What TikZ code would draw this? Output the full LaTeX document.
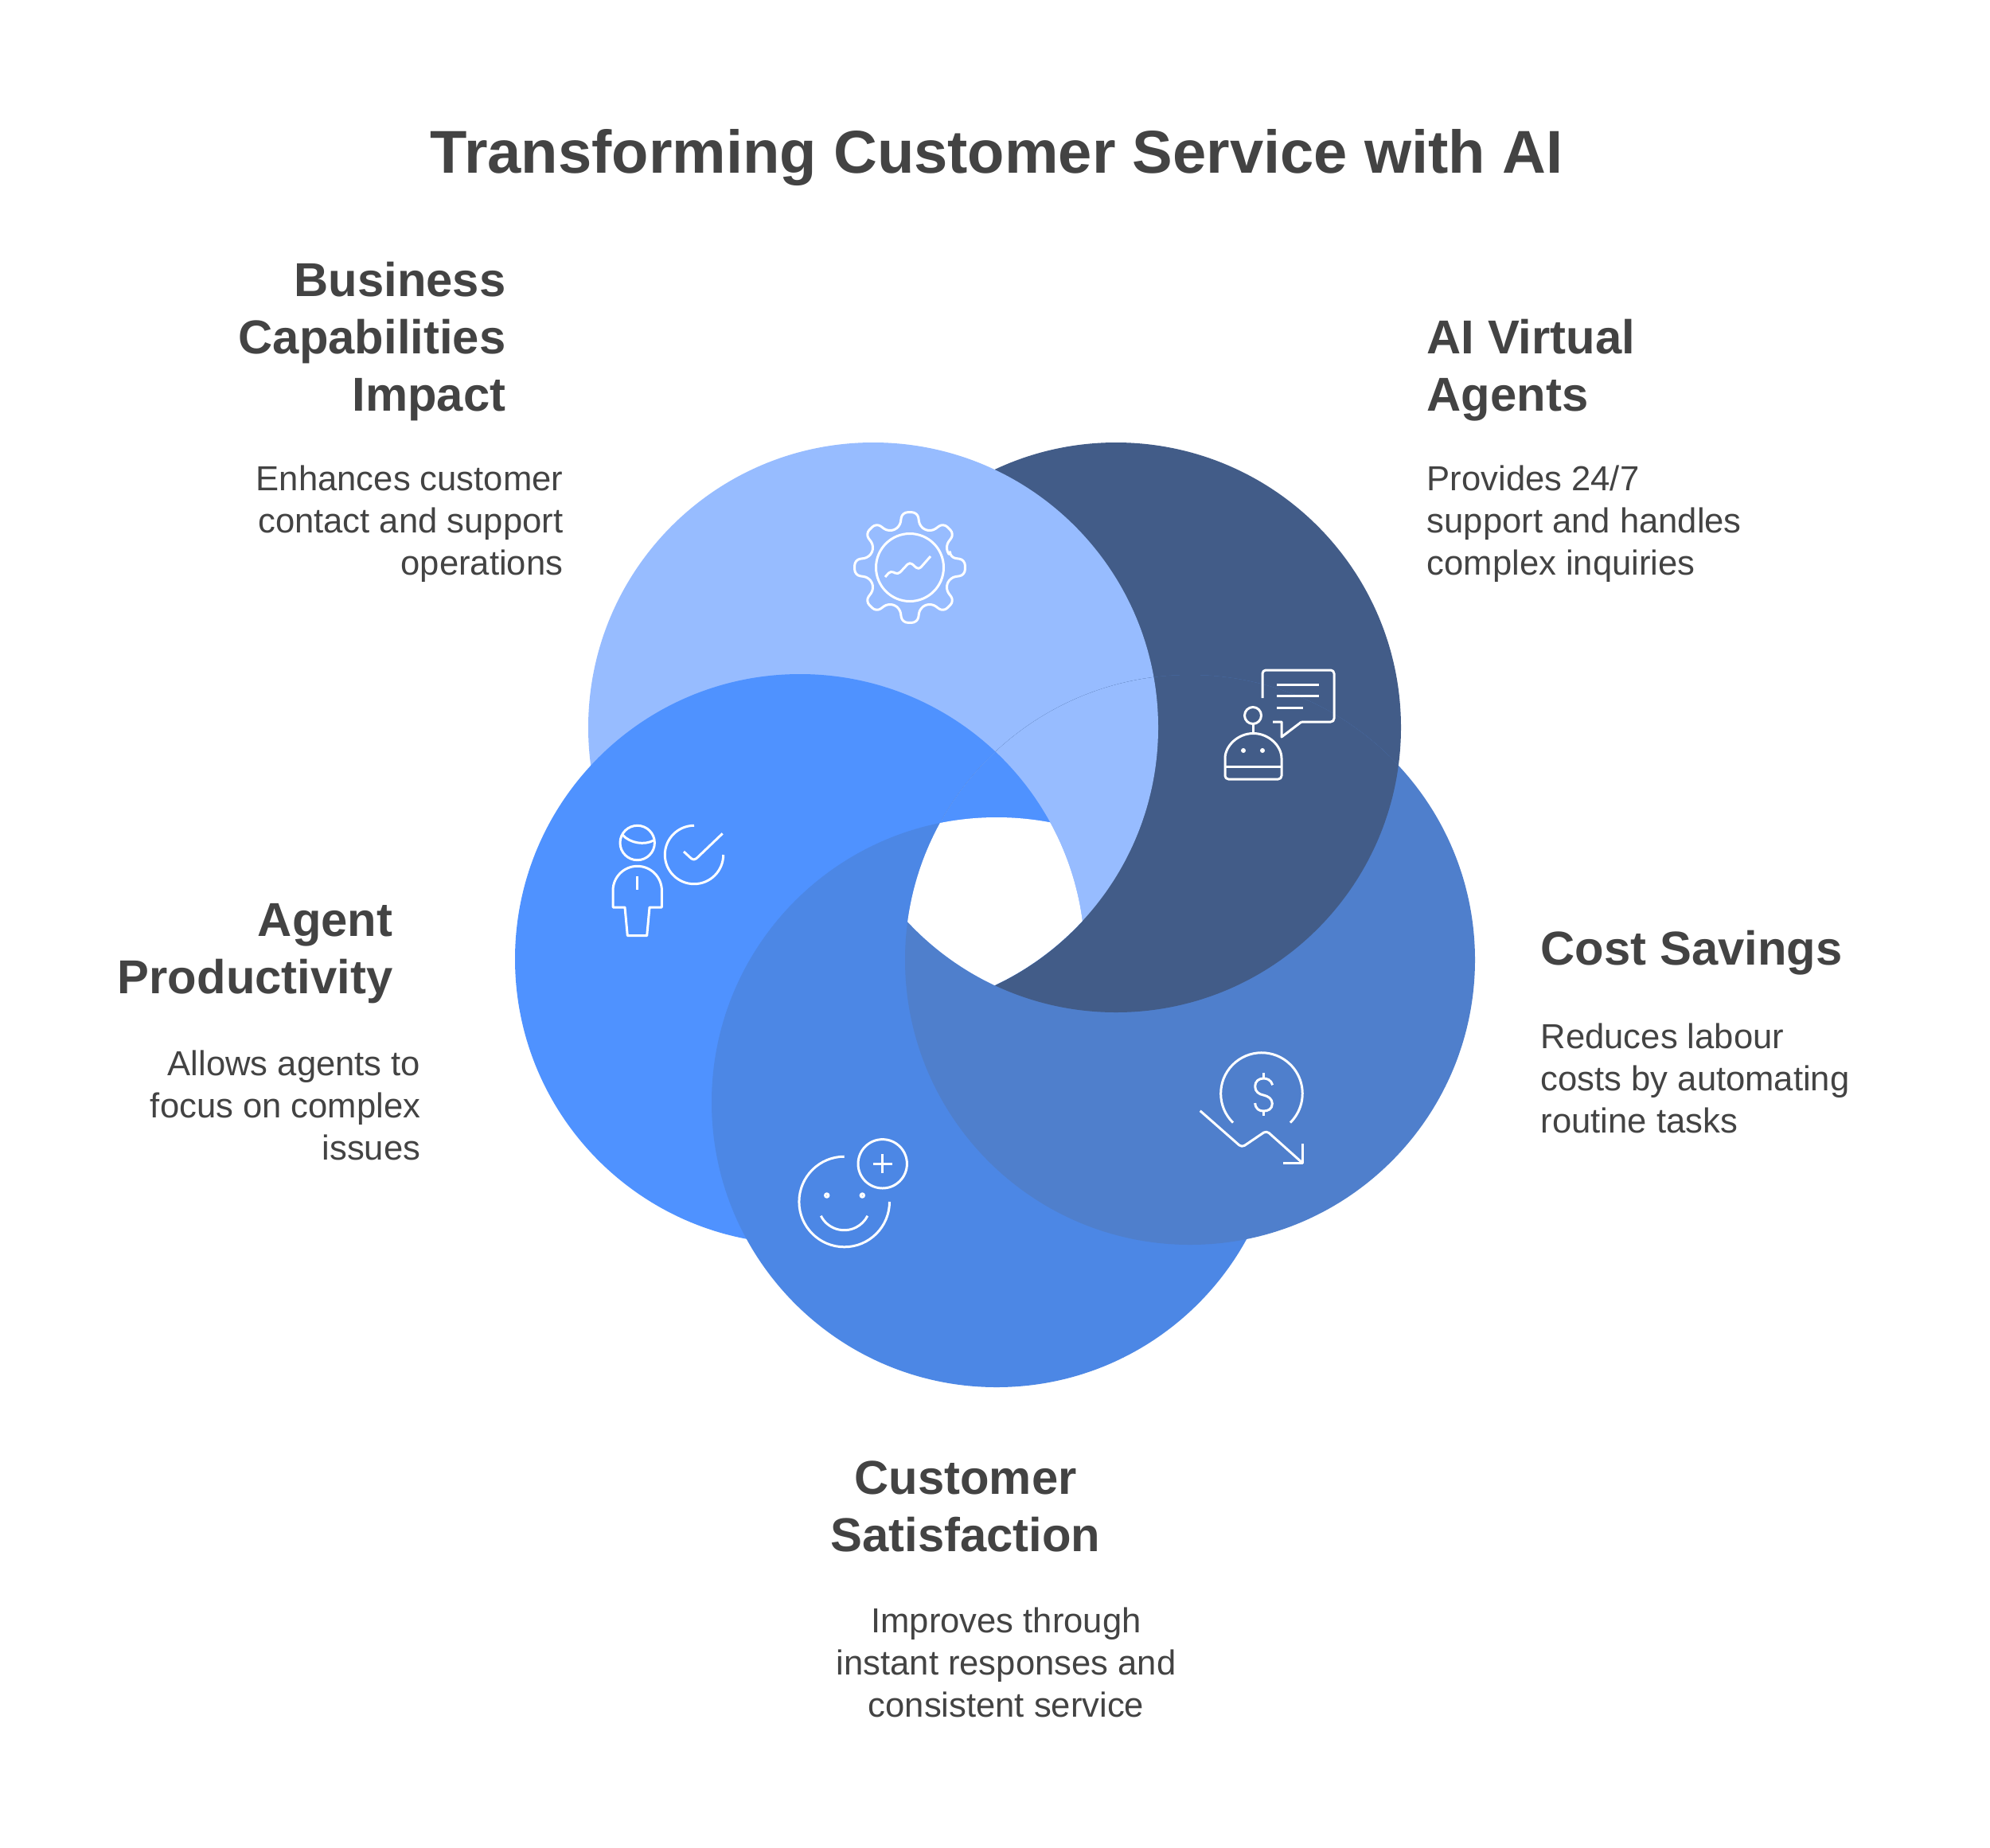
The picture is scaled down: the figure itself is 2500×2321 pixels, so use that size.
\documentclass[tikz,border=0pt]{standalone}
\usepackage{fontspec}
\setmainfont{Liberation Sans}
\definecolor{discdark}{HTML}{425C88}
\definecolor{disclight}{HTML}{97BCFF}
\definecolor{discleft}{HTML}{4F92FF}
\definecolor{discbottom}{HTML}{4C87E5}
\definecolor{discright}{HTML}{4F7FCC}
\definecolor{inktext}{HTML}{434343}
\tikzset{
  titletext/.style={text=inktext, font=\fontsize{21.6}{26}\selectfont\bfseries},
  headtext/.style={text=inktext, inner sep=0pt, font=\fontsize{17}{20.4}\selectfont\bfseries},
  bodytext/.style={text=inktext, inner sep=0pt, font=\fontsize{12.4}{15}\selectfont},
  iconline/.style={draw=white, line width=0.85pt, line join=round},
  roundline/.style={iconline, rounded corners=1.2pt}
}

\begin{document}
\begin{tikzpicture}[x=0.01cm, y=-0.01cm]
  \fill[white] (0,0) rectangle (2500,2321);
  \useasboundingbox (0,0) rectangle (2500,2321);
  \def\discrad{358}

  % Disc centres
  \coordinate (darkc) at (1402,914);
  \coordinate (lightc) at (1097,914);
  \coordinate (leftc) at (1005,1205);
  \coordinate (bottomc) at (1252,1385);
  \coordinate (rightc) at (1495,1206);

  % Discs
  \fill[discdark] (darkc) circle[radius=\discrad];
  \fill[disclight] (lightc) circle[radius=\discrad];
  \fill[discleft] (leftc) circle[radius=\discrad];
  \fill[discbottom] (bottomc) circle[radius=\discrad];
  \fill[discright] (rightc) circle[radius=\discrad];

  % Closing the ring, white hole in the middle
  \begin{scope}
    \clip (rightc) circle[radius=\discrad];
    \fill[discdark] (darkc) circle[radius=\discrad];
    \clip (darkc) circle[radius=\discrad];
    \fill[disclight] (lightc) circle[radius=\discrad];
    \clip (lightc) circle[radius=\discrad];
    \fill[discleft] (leftc) circle[radius=\discrad];
    \clip (leftc) circle[radius=\discrad];
    \fill[white] (bottomc) circle[radius=\discrad];
  \end{scope}

  % Gear icon
  \begin{scope}[shift={(1143,713)}]
    \draw[iconline, rounded corners=2pt] (-14:52)
      \foreach \a in {0,45,...,315} { -- (\a-14:52) -- (\a-8:70) -- (\a+8:70) -- (\a+14:52) } -- cycle;
    \draw[iconline] (0,0) circle[radius=42.5];
  \end{scope}
  \draw[roundline] (1112,725) -- (1119,717) -- (1128,722) -- (1143,706) -- (1154,716) -- (1169,699);

  % Robot icon
  \draw[roundline] (1586,877) -- (1586,842) -- (1676,842) -- (1676,907) -- (1635,907);
  \draw[iconline] (1635,907) -- (1610,926) -- (1610,907) -- (1599,907);
  \draw[iconline] (1604,860) -- (1657,860);
  \draw[iconline] (1604,874) -- (1657,874);
  \draw[iconline] (1604,889) -- (1637,889);
  \draw[iconline] (1574,899) circle[radius=10.5];
  \draw[iconline] (1574,910) -- (1574,921);
  \draw[iconline] (1539,963) -- (1610,963);
  \draw[roundline] (1539,957) arc[start angle=180, end angle=360, radius=35.5] -- (1610,979) -- (1539,979) -- cycle;
  \fill[white] (1562,943) circle[radius=3];
  \fill[white] (1586,943) circle[radius=3];

  % Person icon
  \draw[iconline] (800.7,1059) circle[radius=21.7];
  \draw[iconline] (782,1049) .. controls (792,1060) and (810,1062) .. (821,1056);
  \draw[iconline] (770,1140) -- (770,1119) arc[start angle=180, end angle=360, radius=30.7] -- (831.4,1140) -- (816,1140) -- (812.7,1175.7) -- (788.3,1175.7) -- (785,1140) -- cycle;
  \draw[iconline] (800.7,1101) -- (800.7,1118.3);
  \draw[iconline] (872,1037.3) arc[start angle=270, end angle=0, radius=36.7];
  \draw[roundline] (859,1070) -- (871.7,1081.7) -- (907.7,1047.3);

  % Smile icon
  \draw[iconline] (1060.7,1453.2) arc[start angle=270, end angle=0, radius=56.8];
  \draw[iconline] (1108.7,1462.3) circle[radius=30.7];
  \draw[iconline] (1096.7,1462.3) -- (1120.7,1462.3);
  \draw[iconline] (1108.7,1450.3) -- (1108.7,1474.3);
  \draw[iconline] (1038.7,1502) circle[radius=2.2];
  \draw[iconline] (1083.3,1502) circle[radius=2.2];
  \draw[iconline] (1031.3,1527.7) arc[start angle=153.2, end angle=26.8, radius=32.8];

  % Dollar icon
  \draw[iconline] (1549,1410.6) arc[start angle=134.5, end angle=405.5, radius=51.3];
  \draw[iconline] (1598.7,1363.3) .. controls (1596.7,1356.7) and (1591.7,1355) .. (1587.3,1355)
    .. controls (1581.7,1355) and (1576.7,1358.3) .. (1576.7,1365)
    .. controls (1576.7,1371.7) and (1581.7,1375) .. (1587.3,1376)
    .. controls (1593.3,1377.3) and (1598.3,1380.7) .. (1598.3,1386.7)
    .. controls (1598.3,1393.3) and (1593.3,1396) .. (1587.3,1396)
    .. controls (1581.7,1396) and (1577.3,1393.3) .. (1576.7,1386);
  \draw[iconline] (1587.3,1348.3) -- (1587.3,1355);
  \draw[iconline] (1587.3,1396) -- (1587.3,1401.7);
  \draw[roundline] (1507.7,1395.7) -- (1560,1441.7) -- (1591,1420.7) -- (1636,1461);
  \draw[iconline] (1636,1437.3) -- (1636,1461) -- (1611.7,1461);

  % Title
  \node[titletext] (title) at (1252,198) {Transforming Customer Service with AI};

  % Business capabilities
  \node[headtext, align=right, anchor=east] (bizhead) at (636,429) {Business\\Capabilities\\Impact};
  \node[bodytext, align=right, anchor=east] (bizbody) at (708,658) {Enhances customer\\contact and support\\operations};

  % Virtual agents
  \node[headtext, align=left, anchor=west] (agenthead) at (1792,465) {AI Virtual\\Agents};
  \node[bodytext, align=left, anchor=west] (agentbody) at (1792,658) {Provides 24/7\\support and handles\\complex inquiries};

  % Cost savings
  \node[headtext, align=left, anchor=west] (costhead) at (1935,1197) {Cost Savings};
  \node[bodytext, align=left, anchor=west] (costbody) at (1935,1355) {Reduces labour\\costs by automating\\routine tasks};

  % Productivity
  \node[headtext, align=right, anchor=east] (prodhead) at (494,1198) {Agent\\Productivity};
  \node[bodytext, align=right, anchor=east] (prodbody) at (529,1389) {Allows agents to\\focus on complex\\issues};

  % Satisfaction
  \node[headtext, align=center] (sathead) at (1213,1893) {Customer\\Satisfaction};
  \node[bodytext, align=center] (satbody) at (1264,2089) {Improves through\\instant responses and\\consistent service};
\end{tikzpicture}
\end{document}
